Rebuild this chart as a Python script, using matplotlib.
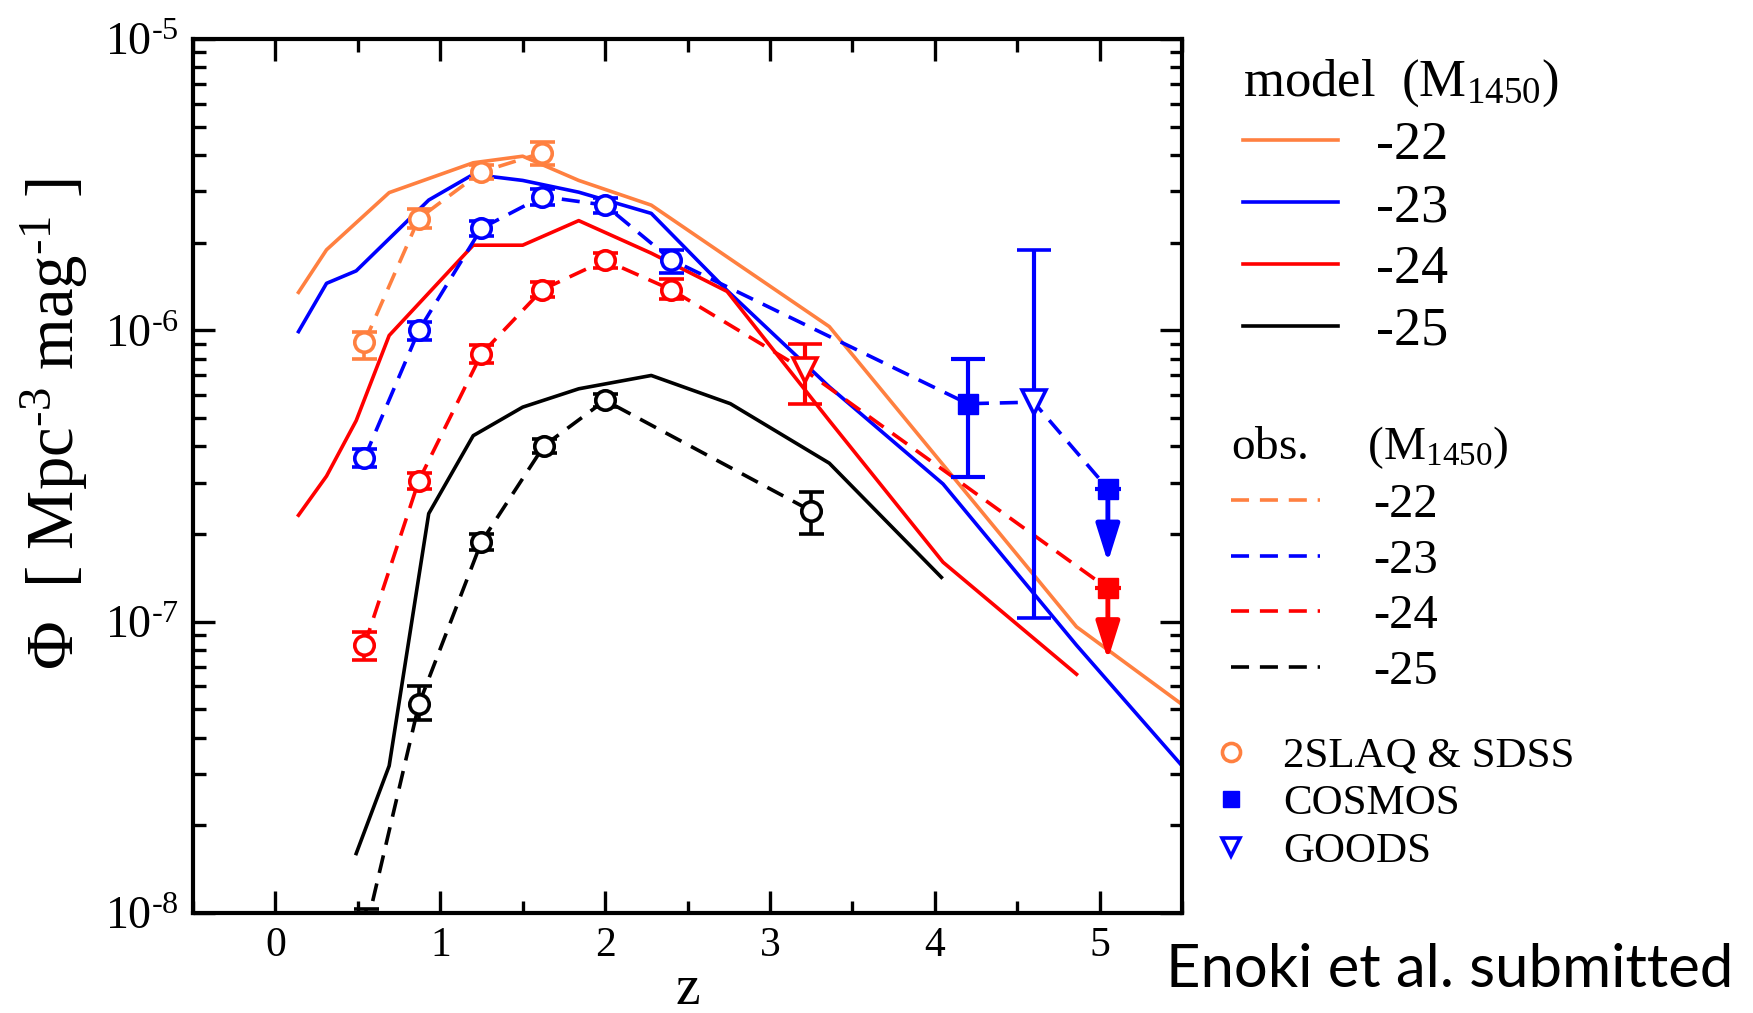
import numpy as np
import matplotlib
matplotlib.use('Agg')
import matplotlib.pyplot as plt
from matplotlib.lines import Line2D
from matplotlib.ticker import MultipleLocator, LogLocator, FuncFormatter, NullFormatter

plt.rcParams['font.family'] = ['Liberation Serif', 'DejaVu Serif']
plt.rcParams['mathtext.fontset'] = 'custom'
plt.rcParams['mathtext.rm'] = 'Liberation Serif'
plt.rcParams['mathtext.it'] = 'Liberation Serif:italic'
plt.rcParams['mathtext.bf'] = 'Liberation Serif:bold'

ORANGE = '#ff8040'
BLUE = '#0000ff'
RED = '#ff0000'
BLACK = '#000000'

# model curves (M1450 = -22 ... -25)
z_mod22 = [0.14, 0.31, 0.69, 1.20, 1.50, 1.84, 2.28, 3.36, 4.86, 5.50]
phi_mod22 = [1.35e-6, 1.89e-6, 2.97e-6, 3.76e-6, 3.96e-6, 3.27e-6, 2.69e-6, 1.03e-6, 9.6e-8, 5.2e-8]
z_mod23 = [0.14, 0.31, 0.49, 0.93, 1.20, 1.50, 1.84, 2.28, 2.74, 3.36, 4.05, 4.86, 5.50]
phi_mod23 = [9.9e-7, 1.45e-6, 1.60e-6, 2.80e-6, 3.43e-6, 3.27e-6, 2.98e-6, 2.52e-6, 1.37e-6, 6.4e-7, 2.97e-7, 8.3e-8, 3.2e-8]
z_mod24 = [0.14, 0.31, 0.49, 0.69, 1.20, 1.50, 1.84, 2.28, 2.74, 3.36, 4.05, 4.86]
phi_mod24 = [2.32e-7, 3.16e-7, 4.9e-7, 9.6e-7, 1.96e-6, 1.96e-6, 2.38e-6, 1.84e-6, 1.36e-6, 4.9e-7, 1.6e-7, 6.6e-8]
z_mod25 = [0.49, 0.69, 0.93, 1.20, 1.50, 1.84, 2.28, 2.76, 3.36, 4.04]
phi_mod25 = [1.6e-8, 3.2e-8, 2.35e-7, 4.35e-7, 5.45e-7, 6.3e-7, 7.0e-7, 5.6e-7, 3.5e-7, 1.42e-7]

# 2SLAQ & SDSS
z_obs22 = [0.54, 0.87, 1.25, 1.62]
phi_obs22 = [9.1e-7, 2.42e-6, 3.50e-6, 4.07e-6]
lo_obs22 = [8.0e-7, 2.25e-6, 3.30e-6, 3.69e-6]
hi_obs22 = [9.9e-7, 2.60e-6, 3.70e-6, 4.44e-6]

z_obs23 = [0.54, 0.87, 1.25, 1.62, 2.00, 2.40]
phi_obs23 = [3.65e-7, 1.00e-6, 2.24e-6, 2.88e-6, 2.69e-6, 1.75e-6]
lo_obs23 = [3.40e-7, 0.93e-6, 2.10e-6, 2.70e-6, 2.53e-6, 1.57e-6]
hi_obs23 = [3.90e-7, 1.07e-6, 2.38e-6, 3.06e-6, 2.85e-6, 1.88e-6]

z_obs24 = [0.54, 0.87, 1.25, 1.62, 2.00, 2.40]
phi_obs24 = [8.3e-8, 3.05e-7, 8.3e-7, 1.38e-6, 1.74e-6, 1.38e-6]
lo_obs24 = [7.4e-8, 2.85e-7, 7.7e-7, 1.30e-6, 1.64e-6, 1.28e-6]
hi_obs24 = [9.2e-8, 3.25e-7, 8.9e-7, 1.46e-6, 1.84e-6, 1.50e-6]

z_obs25 = [0.55, 0.87, 1.25, 1.63, 2.00, 3.25]
phi_obs25 = [8.8e-9, 5.2e-8, 1.88e-7, 4.02e-7, 5.75e-7, 2.40e-7]
lo_obs25 = [7.6e-9, 4.6e-8, 1.76e-7, 3.80e-7, 5.45e-7, 2.00e-7]
hi_obs25 = [1.03e-8, 6.0e-8, 2.00e-7, 4.25e-7, 6.05e-7, 2.78e-7]

# COSMOS (M=-23) with error, and upper limits at z~5
z_cosmos23 = [4.20]
phi_cosmos23 = [5.6e-7]
lo_cosmos23 = [3.13e-7]
hi_cosmos23 = [8.0e-7]
z_ul = [5.05, 5.05]
phi_ul = [2.86e-7, 1.30e-7]
tip_ul = [1.6e-7, 7.4e-8]
ul_colors = [BLUE, RED]

# GOODS
z_goods23 = [4.60]
phi_goods23 = [5.67e-7]
lo_goods23 = [1.03e-7]
hi_goods23 = [1.88e-6]
z_goods24 = [3.21]
phi_goods24 = [7.3e-7]
lo_goods24 = [5.6e-7]
hi_goods24 = [9.0e-7]

fig = plt.figure(figsize=(17.53, 10.13), dpi=100)
ax = fig.add_axes([0.1101, 0.0987, 0.5642, 0.8628])

LW = 2.6
DASH = (5, 3)

ax.plot(z_mod22, phi_mod22, color=ORANGE, lw=LW)
ax.plot(z_mod23, phi_mod23, color=BLUE, lw=LW)
ax.plot(z_mod24, phi_mod24, color=RED, lw=LW)
ax.plot(z_mod25, phi_mod25, color=BLACK, lw=LW)

# dashed obs lines
ax.plot(z_obs22, phi_obs22, color=ORANGE, lw=LW, dashes=DASH)
ax.plot(z_obs23 + z_cosmos23 + z_goods23 + z_ul[:1],
        phi_obs23 + phi_cosmos23 + phi_goods23 + phi_ul[:1], color=BLUE, lw=LW, dashes=DASH)
ax.plot(z_obs24 + z_goods24 + z_ul[1:], phi_obs24 + phi_goods24 + phi_ul[1:],
        color=RED, lw=LW, dashes=DASH)
ax.plot(z_obs25, phi_obs25, color=BLACK, lw=LW, dashes=DASH)


def yerr(phi, lo, hi):
    phi = np.array(phi)
    return [phi - np.array(lo), np.array(hi) - phi]


for z, p, lo, hi, c in [(z_obs22, phi_obs22, lo_obs22, hi_obs22, ORANGE),
                        (z_obs23, phi_obs23, lo_obs23, hi_obs23, BLUE),
                        (z_obs24, phi_obs24, lo_obs24, hi_obs24, RED),
                        (z_obs25, phi_obs25, lo_obs25, hi_obs25, BLACK)]:
    ax.errorbar(z, p, yerr=yerr(p, lo, hi), fmt='o', color=c, ms=14, mfc='white',
                mec=c, mew=2.6, elinewidth=2.6, capsize=9, capthick=2.6, zorder=5)

ax.errorbar(z_cosmos23, phi_cosmos23, yerr=yerr(phi_cosmos23, lo_cosmos23, hi_cosmos23),
            fmt='s', color=BLUE, ms=14, elinewidth=3, capsize=12, capthick=3, zorder=5)
ax.errorbar(z_goods23, phi_goods23, yerr=yerr(phi_goods23, lo_goods23, hi_goods23),
            fmt='v', color=BLUE, ms=17, mfc='white', mew=2.6, elinewidth=3,
            capsize=12, capthick=3, zorder=5)
ax.errorbar(z_goods24, phi_goods24, yerr=yerr(phi_goods24, lo_goods24, hi_goods24),
            fmt='v', color=RED, ms=17, mfc='white', mew=2.6, elinewidth=3,
            capsize=12, capthick=3, zorder=5)

for z, p, t, c in zip(z_ul, phi_ul, tip_ul, ul_colors):
    ax.annotate('', xy=(z, t), xytext=(z, p),
                arrowprops=dict(arrowstyle='-|>,head_length=1.05,head_width=0.33',
                                color=c, lw=3.5, mutation_scale=22, shrinkA=0, shrinkB=0),
                zorder=4)
    ax.plot([z], [p], marker='s', ms=14, color=c, zorder=6)
    ax.plot([z], [p], marker='_', ms=19, mew=3, color=c, zorder=6)

ax.set_yscale('log')
ax.set_xlim(-0.5, 5.5)
ax.set_ylim(1e-8, 1e-5)

ax.xaxis.set_major_locator(MultipleLocator(1))
ax.xaxis.set_minor_locator(MultipleLocator(0.5))
ax.yaxis.set_major_locator(LogLocator(base=10, numticks=10))
ax.yaxis.set_minor_locator(LogLocator(base=10, subs=np.arange(2, 10), numticks=20))
ax.yaxis.set_minor_formatter(NullFormatter())
ax.yaxis.set_major_formatter(FuncFormatter(lambda v, p: '10$^{\\text{%d}}$' % int(round(np.log10(v)))))

ax.tick_params(which='both', direction='in', top=True, right=True)
ax.tick_params(axis='x', labelsize=30)
ax.tick_params(axis='y', labelsize=33)
ax.tick_params(which='major', length=16, width=2.4, pad=10)
ax.tick_params(which='minor', length=9, width=2.4)
for s in ax.spines.values():
    s.set_linewidth(3)

ax.set_xlabel('z', fontsize=40, labelpad=-1)
ax.set_ylabel('$\\Phi$  [ Mpc$^{\\text{-3}}$ mag$^{\\text{-1}}$ ]', fontsize=48)
ax.yaxis.set_label_coords(-0.104, 0.56)

# legends
model_handles = [Line2D([], [], color=c, lw=LW) for c in [ORANGE, BLUE, RED, BLACK]]
leg1 = ax.legend(handles=model_handles, labels=['-22', '-23', '-24', '-25'],
                 title='model  (M$_{1450}$)', loc='upper left',
                 bbox_to_anchor=(0.709, 0.943), bbox_transform=fig.transFigure,
                 frameon=False, fontsize=39, title_fontsize=38, handlelength=1.75,
                 handletextpad=0.7, labelspacing=0.21, borderpad=0, borderaxespad=0,
                 alignment='left')
ax.add_artist(leg1)

obs_handles = [Line2D([], [], color=c, lw=LW, dashes=DASH) for c in [ORANGE, BLUE, RED, BLACK]]
leg2 = ax.legend(handles=obs_handles, labels=['-22', '-23', '-24', '-25'],
                 title='obs.     (M$_{1450}$)', loc='upper left',
                 bbox_to_anchor=(0.702, 0.581), bbox_transform=fig.transFigure,
                 frameon=False, fontsize=35, title_fontsize=34, handlelength=1.84,
                 handletextpad=1.1, labelspacing=0.24, borderpad=0, borderaxespad=0,
                 alignment='left')
ax.add_artist(leg2)

mark_handles = [Line2D([], [], ls='none', marker='o', ms=13, mfc='white', mec=ORANGE, mew=2.6),
                Line2D([], [], ls='none', marker='s', ms=12, color=BLUE),
                Line2D([], [], ls='none', marker='v', ms=13, mfc='white', mec=BLUE, mew=2.6)]
leg3 = ax.legend(handles=mark_handles, labels=['2SLAQ & SDSS', 'COSMOS', 'GOODS'],
                 loc='upper left', bbox_to_anchor=(0.690, 0.273), bbox_transform=fig.transFigure,
                 frameon=False, fontsize=31, handlelength=1.0, handletextpad=0.7,
                 labelspacing=0.2, borderpad=0, borderaxespad=0)

fig.text(0.9886, 0.042, 'Enoki et al. submitted', ha='right', va='center',
         family=['Lato', 'DejaVu Sans'], fontsize=43)

fig.savefig('out.png', dpi=100)
